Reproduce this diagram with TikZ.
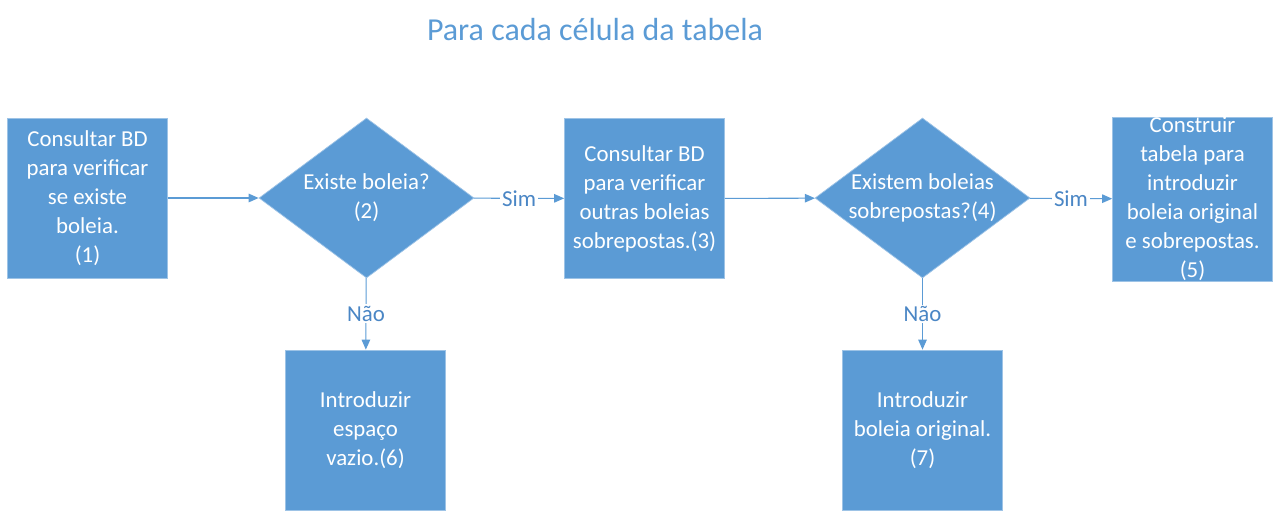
\documentclass[tikz,border=0pt]{standalone}
\usepackage{fontspec}
\setmainfont{Carlito}
\usetikzlibrary{shapes.geometric,arrows.meta}
\definecolor{boxblue}{HTML}{5B9BD5}
\definecolor{edgeblue}{HTML}{9DC3E6}
\definecolor{labelblue}{HTML}{4A86C5}
\begin{document}
\begin{tikzpicture}[x=0.02cm,y=-0.02cm,
    stepbox/.style={draw=edgeblue,fill=boxblue,text=white,minimum width=3.2cm,minimum height=3.2cm,
      text width=3.2cm,align=flush center,inner sep=0pt,font=\fontsize{13}{16.5}\selectfont},
    decision/.style={diamond,draw=edgeblue,fill=boxblue,minimum width=4.3cm,minimum height=3.2cm,inner sep=0pt},
    decisiontext/.style={text=white,align=center,inner sep=0pt,font=\fontsize{13}{16.5}\selectfont},
    flow/.style={draw=boxblue,line width=0.6pt,-{Triangle[length=0.2cm,width=0.17cm]}},
    answer/.style={fill=white,text=labelblue,inner sep=1pt,font=\fontsize{13}{15}\selectfont}]
  \useasboundingbox (0,0) rectangle (1284,520);
  \node[text=boxblue,font=\fontsize{18.2}{21}\selectfont] (title) at (595,30) {Para cada célula da tabela};
  % linha principal
  \node[stepbox] (consulta) at (87.5,198) {Consultar BD\\para verificar\\se existe\\boleia.\\(1)};
  \node[decision] (existe) at (366.5,198) {};
  \node[decisiontext] (existetxt) at (366.5,198) {Existe boleia?\\(2)};
  \node[stepbox] (outras) at (644.5,198.5) {Consultar BD\\para verificar\\outras boleias\\sobrepostas.(3)};
  \node[decision] (sobre) at (922.5,198) {};
  \node[decisiontext] (sobretxt) at (922.5,198) {Existem boleias\\sobrepostas?(4)};
  \node[stepbox] (construir) at (1192.5,199) {Construir\\tabela para\\introduzir\\boleia original\\e sobrepostas.\\(5)};
  % ramos do Nao
  \node[stepbox] (vazio) at (365.5,430) {Introduzir\\espaço\\vazio.(6)};
  \node[stepbox] (original) at (922.5,430) {Introduzir\\boleia original.\\(7)};
  \draw[flow] (consulta) -- (existe);
  \draw[flow] (existe) -- node[answer] {Sim} (outras);
  \draw[flow] (outras) -- (sobre);
  \draw[flow] (sobre) -- node[answer] {Sim} (construir);
  \draw[flow] (existe) -- node[answer] {Não} (vazio);
  \draw[flow] (sobre) -- node[answer] {Não} (original);
\end{tikzpicture}
\end{document}
